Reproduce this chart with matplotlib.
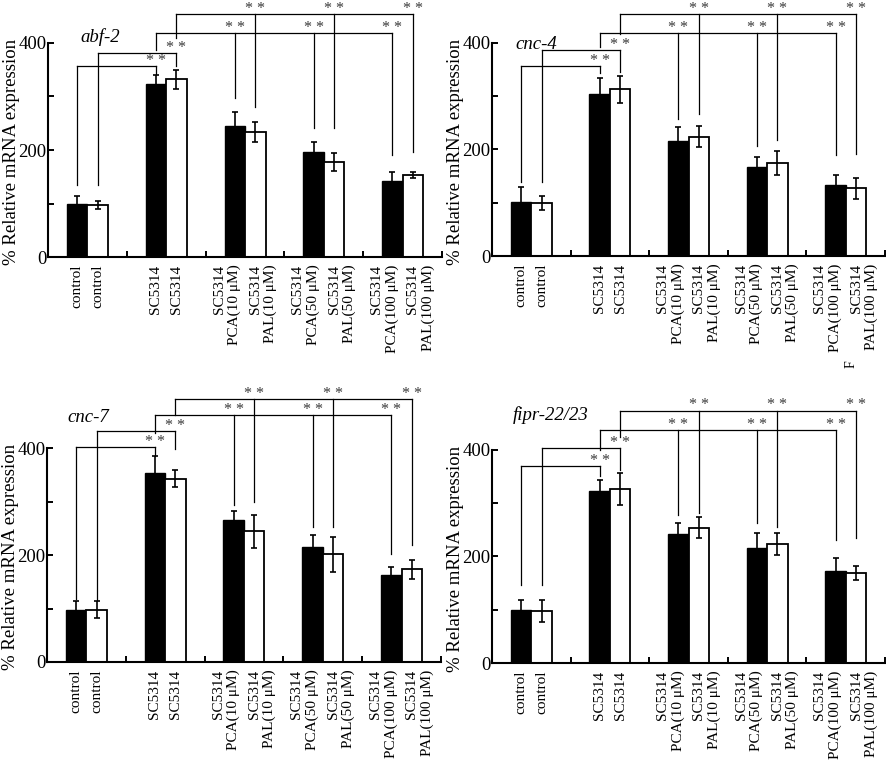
import matplotlib
matplotlib.use('Agg')
import matplotlib.pyplot as plt
import matplotlib.transforms as mtransforms

plt.rcParams['font.family'] = ['Liberation Serif', 'DejaVu Serif']

# ---------------- data ----------------
genes = ['abf-2', 'cnc-4', 'cnc-7', 'fipr-22/23']
pca_labels = ['control', 'SC5314', 'SC5314\nPCA(10 μM)', 'SC5314\nPCA(50 μM)', 'SC5314\nPCA(100 μM)']
pal_labels = ['control', 'SC5314', 'SC5314\nPAL(10 μM)', 'SC5314\nPAL(50 μM)', 'SC5314\nPAL(100 μM)']
yticks = [0, 100, 200, 300, 400]
ytick_labels = ['0', '', '200', '', '400']
ylabel = '% Relative mRNA expression'
star = '* *'

abf2_pca = [100, 323, 245, 197, 142]
abf2_pca_err = [14, 17, 26, 18, 17]
abf2_pal = [97, 332, 234, 178, 153]
abf2_pal_err = [7, 18, 19, 17, 6]

cnc4_pca = [101, 304, 216, 167, 133]
cnc4_pca_err = [28, 31, 26, 19, 19]
cnc4_pal = [99, 313, 224, 175, 127]
cnc4_pal_err = [13, 25, 20, 22, 20]

cnc7_pca = [98, 353, 266, 215, 163]
cnc7_pca_err = [16, 32, 16, 23, 15]
cnc7_pal = [98, 343, 244, 201, 173]
cnc7_pal_err = [16, 16, 30, 32, 17]

fipr_pca = [100, 323, 242, 216, 173]
fipr_pca_err = [19, 21, 21, 28, 25]
fipr_pal = [98, 327, 254, 223, 169]
fipr_pal_err = [21, 30, 20, 21, 14]

# significance bracket heights (horizontal level of brackets 1-4)
abf2_levels = [357, 381, 419, 454]
cnc4_levels = [357, 386, 419, 454]
cnc7_levels = [402, 432, 462, 492]
fipr_levels = [369, 404, 437, 474]

# lower ends of bracket legs:
# [b1 left, b1 right, b2 left, b2 right, b3 left, b3 x3 right, b4 left, b4 x3 right]
abf2_legs = [135, 342, 135, 357, 387, 297, 241, 191, 409, 280, 241, 196]
cnc4_legs = [139, 344, 139, 346, 392, 258, 207, 189, 416, 267, 217, 191]
cnc7_legs = [118, 386, 115, 399, 428, 293, 252, 201, 462, 299, 252, 218]
fipr_legs = [147, 351, 147, 362, 400, 278, 262, 231, 424, 281, 256, 234]

panels = [
    (genes[0], abf2_pca, abf2_pca_err, abf2_pal, abf2_pal_err, abf2_levels, abf2_legs),
    (genes[1], cnc4_pca, cnc4_pca_err, cnc4_pal, cnc4_pal_err, cnc4_levels, cnc4_legs),
    (genes[2], cnc7_pca, cnc7_pca_err, cnc7_pal, cnc7_pal_err, cnc7_levels, cnc7_legs),
    (genes[3], fipr_pca, fipr_pca_err, fipr_pal, fipr_pal_err, fipr_levels, fipr_legs),
]

# ---------------- layout ----------------
W, H = 886, 773
fig = plt.figure(figsize=(W / 100, H / 100), dpi=100)
axes_rects = [
    [0.0542, 0.6675, 0.4447, 0.2769],
    [0.5553, 0.6688, 0.4436, 0.2756],
    [0.0530, 0.1436, 0.4447, 0.2768],
    [0.5553, 0.1423, 0.4436, 0.2756],
]
gene_pos = [(0.66, 411), (0.56, 398), (0.52, 458), (0.75, 466)]
bw = 0.26
lw_line = 0.9
star_color = '#3a3a3a'


def draw_bracket(ax, xl, yl, level, xr_list, yr_list):
    ax.plot([xl, xl], [yl, level], color='black', lw=lw_line, clip_on=False)
    ax.plot([xl, max(xr_list)], [level, level], color='black', lw=lw_line, clip_on=False)
    for xr, yr in zip(xr_list, yr_list):
        ax.plot([xr, xr], [level, yr], color='black', lw=lw_line, clip_on=False)
        ax.text(xr, level + 2, star, ha='center', va='baseline', fontsize=11.5,
                color=star_color, clip_on=False)


for rect, (gene, pca, pca_e, pal, pal_e, levels, legs), gpos in zip(axes_rects, panels, gene_pos):
    ax = fig.add_axes(rect)
    n = len(pca)
    centers = [i + 0.5 for i in range(n)]
    xb = [c - bw / 2 for c in centers]
    xw = [c + bw / 2 for c in centers]
    ax.bar(xb, pca, width=bw, color='black', edgecolor='black', linewidth=1.0, zorder=2)
    ax.bar(xw, pal, width=bw, color='white', edgecolor='black', linewidth=1.3, zorder=2)
    ax.errorbar(xb, pca, yerr=pca_e, fmt='none', ecolor='black', elinewidth=1.2,
                capsize=2.5, capthick=1.2, zorder=3)
    ax.errorbar(xw, pal, yerr=pal_e, fmt='none', ecolor='black', elinewidth=1.2,
                capsize=2.5, capthick=1.2, zorder=3)

    ax.set_xlim(0, n)
    ax.set_ylim(0, 400)
    for s in ['top', 'right']:
        ax.spines[s].set_visible(False)
    for s in ['left', 'bottom']:
        ax.spines[s].set_linewidth(1.5)
    ax.set_xticks(range(0, n + 1))
    ax.set_xticklabels([])
    ax.set_yticks(yticks)
    ax.set_yticklabels(ytick_labels)
    ax.tick_params(axis='both', direction='in', length=4, width=1.4)
    ax.tick_params(axis='y', labelsize=13.5, pad=1)
    ax.set_ylabel(ylabel, fontsize=13.5)
    ax.yaxis.set_label_coords(-0.072, 0.49)

    trans = mtransforms.blended_transform_factory(ax.transData, ax.transAxes)
    for i in range(n):
        dxb = -0.1 if '\n' in pca_labels[i] else 0.0
        dxw = 0.1 if '\n' in pal_labels[i] else 0.0
        ax.text(xb[i] + dxb, -0.035, pca_labels[i], transform=trans, rotation=90,
                ha='center', va='top', multialignment='right', fontsize=11)
        ax.text(xw[i] + dxw, -0.035, pal_labels[i], transform=trans, rotation=90,
                ha='center', va='top', multialignment='right', fontsize=11)

    ax.text(gpos[0], gpos[1], gene, ha='center', va='center', fontsize=13.5,
            style='italic', clip_on=False)

    # brackets
    draw_bracket(ax, xb[0], legs[0], levels[0], [xb[1]], [legs[1]])
    draw_bracket(ax, xw[0], legs[2], levels[1], [xw[1]], [legs[3]])
    draw_bracket(ax, xb[1], legs[4], levels[2], xb[2:], legs[5:8])
    draw_bracket(ax, xw[1], legs[8], levels[3], xw[2:], legs[9:12])

fig.text(851 / W, 1 - 364 / H, 'F', rotation=90, fontsize=10, ha='center', va='center')

fig.savefig('out.png', dpi=100, facecolor='white')
